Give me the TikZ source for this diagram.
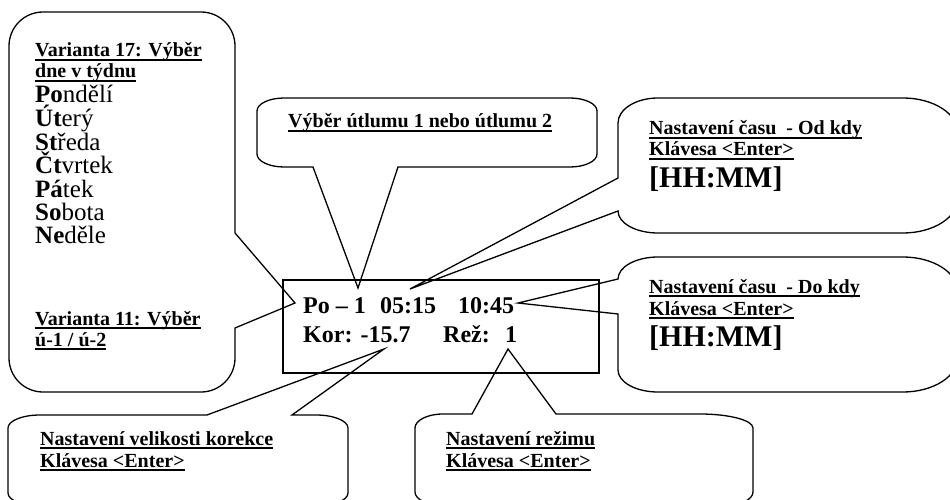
\documentclass[tikz,border=0pt]{standalone}
\usepackage{fontspec}
\setmainfont{Liberation Serif}
\newcommand\ulx[1]{\setbox0\hbox{#1}\rlap{\rule[-4pt]{\wd0}{2pt}}\box0}
\begin{document}
\begin{tikzpicture}[x=1pt,y=-1pt,
  callout/.style={draw=black,line width=1.3pt,line join=miter},
  dispbox/.style={draw=black,line width=1.5pt},
  lbl/.style={inner sep=0pt,anchor=base west,font=\bfseries\fontsize{20}{22}\selectfont},
  day/.style={inner sep=0pt,anchor=base west,font=\fontsize{25}{27}\selectfont},
  disp/.style={inner sep=0pt,anchor=base west,font=\bfseries\fontsize{24}{26}\selectfont},
  big/.style={inner sep=0pt,anchor=base west,font=\bfseries\fontsize{30}{32}\selectfont}]
\path[use as bounding box] (0,0) rectangle (950,500);
\fill[white] (0,0) rectangle (950,500);
\clip (0,0) rectangle (950,500);

% tips of the callouts
\coordinate (tipL) at (295,303);
\coordinate (tipT) at (358,288);
\coordinate (tipR1) at (410,289);
\coordinate (tipR2) at (518,303);
\coordinate (tipB1) at (384,349);
\coordinate (tipB2) at (508,349);

% display box
\draw[dispbox] (283,280) rectangle (599,373);

% left callout
\draw[callout] (43,12) -- (201,12) .. controls (219.8,12) and (235,27.2) .. (235,46)
  -- (235,233) -- (tipL) -- (235,328) -- (235,358)
  .. controls (235,376.8) and (219.8,392) .. (201,392) -- (43,392)
  .. controls (24.2,392) and (9,376.8) .. (9,358) -- (9,46)
  .. controls (9,27.2) and (24.2,12) .. (43,12) -- cycle;

% top callout
\draw[callout] (284,98) -- (570,98) .. controls (584.9,98) and (597,103.8) .. (597,111)
  -- (597,154) .. controls (597,161.2) and (584.9,167) .. (570,167)
  -- (398,167) -- (tipT) -- (313,167) -- (284,167)
  .. controls (269.1,167) and (257,161.2) .. (257,154) -- (257,111)
  .. controls (257,103.8) and (269.1,98) .. (284,98) -- cycle;

% right callout 1
\draw[callout] (658,98) -- (903,98) .. controls (933.4,98) and (958,113.7) .. (958,133)
  -- (958,198) .. controls (958,217.3) and (933.4,233) .. (903,233)
  -- (658,233) .. controls (635.9,233) and (618,223.1) .. (618,211)
  -- (tipR1) -- (618,178) -- (618,123)
  .. controls (618,109.2) and (635.9,98) .. (658,98) -- cycle;

% right callout 2
\draw[callout] (658,257) -- (903,257) .. controls (933.4,257) and (958,272.7) .. (958,292)
  -- (958,357) .. controls (958,376.3) and (933.4,392) .. (903,392)
  -- (658,392) .. controls (635.9,392) and (618,382.1) .. (618,370)
  -- (618,314) -- (tipR2) -- (618,279)
  .. controls (618,266.9) and (635.9,257) .. (658,257) -- cycle;

% bottom callout 1
\draw[callout] (40,415) -- (207,415) -- (tipB1) -- (292,415) -- (316,415)
  .. controls (333.7,415) and (348,420.8) .. (348,428) -- (348,493)
  .. controls (348,500.2) and (333.7,506) .. (316,506) -- (40,506)
  .. controls (22.3,506) and (8,500.2) .. (8,493) -- (8,428)
  .. controls (8,420.8) and (22.3,415) .. (40,415) -- cycle;

% bottom callout 2
\draw[callout] (443,414) -- (472,414) -- (tipB2) -- (556,414) -- (700,414)
  .. controls (729.3,414) and (753,420.3) .. (753,428) -- (753,492)
  .. controls (753,499.7) and (739.6,506) .. (723,506) -- (445,506)
  .. controls (428.4,506) and (415,499.7) .. (415,492) -- (415,428)
  .. controls (415,420.3) and (427.5,414) .. (443,414) -- cycle;

% left callout texts
\node[lbl] (l1) at (35,57) {\ulx{Varianta 17: Výběr}};
\node[lbl] (l2) at (35,78) {\ulx{dne v týdnu}};
\node[day] (d1) at (35,103) {\textbf{Po}ndělí};
\node[day] (d2) at (35,127) {\textbf{Út}erý};
\node[day] (d3) at (35,150) {\textbf{St}ředa};
\node[day] (d4) at (35,173) {\textbf{Čt}vrtek};
\node[day] (d5) at (35,197) {\textbf{Pá}tek};
\node[day] (d6) at (35,220) {\textbf{So}bota};
\node[day] (d7) at (35,243) {\textbf{Ne}děle};
\node[lbl] (l3) at (35,325) {\ulx{Varianta 11: Výběr}};
\node[lbl] (l4) at (35,346) {\ulx{ú-1 / ú-2}};

% top callout text
\node[lbl] (t1) at (288,128) {\ulx{Výběr útlumu 1 nebo útlumu 2}};

% right callout texts
\node[lbl] (r11) at (649,135) {\ulx{Nastavení času\ \ - Od kdy}};
\node[lbl] (r12) at (649,156) {\ulx{Klávesa <Enter>}};
\node[big] (r13) at (649,187) {[HH:MM]};
\node[lbl] (r21) at (649,293) {\ulx{Nastavení času\ \ - Do kdy}};
\node[lbl] (r22) at (649,315) {\ulx{Klávesa <Enter>}};
\node[big] (r23) at (649,346) {[HH:MM]};

% bottom callout texts
\node[lbl] (b11) at (40,445) {\ulx{Nastavení velikosti korekce}};
\node[lbl] (b12) at (40,467) {\ulx{Klávesa <Enter>}};
\node[lbl] (b21) at (446,445) {\ulx{Nastavení režimu}};
\node[lbl] (b22) at (446,467) {\ulx{Klávesa <Enter>}};

% display texts
\node[disp] (po) at (303,313) {Po – 1};
\node[disp] (tod) at (380,313) {05:15};
\node[disp] (tdo) at (458,313) {10:45};
\node[disp] (kor) at (303,342) {Kor: -15.7};
\node[disp] (rez) at (443,342) {Rež:};
\node[disp] (rezv) at (505,342) {1};
\end{tikzpicture}
\end{document}
